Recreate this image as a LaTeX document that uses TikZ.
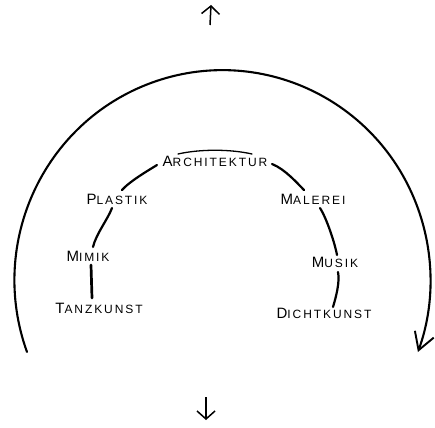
\documentclass[tikz,border=0pt]{standalone}
\usepackage{fontspec}
\setmainfont{Liberation Sans}
\usetikzlibrary{arrows.meta,calc}
\newcommand{\skw}[2]{{\addfontfeatures{LetterSpace=16}\fontsize{15}{15}\selectfont #1\fontsize{12}{12}\selectfont #2}}
\begin{document}
\begin{tikzpicture}[x=1pt,y=-1pt,
  lbl/.style={inner sep=0pt, text=black},
  conn/.style={line width=2.2pt, line cap=round},
  bigarc/.style={line width=2.1pt, line cap=round},
  smallarrow/.style={line width=1.5pt, -{Straight Barb[length=8pt,width=18pt,line width=1.5pt]}}]
\useasboundingbox (0,0) rectangle (435,427);
% outer arc
\draw[bigarc, -{Straight Barb[length=17pt,width=20pt,line width=1.9pt]}]
  (27,352) arc[start angle=200, end angle=-20, x radius=208pt, y radius=210pt];
% small arrows
\coordinate (upa) at (210,25);
\coordinate (upb) at (211,5);
\coordinate (dna) at (206,397);
\coordinate (dnb) at (206,420);
\draw[smallarrow] (upa) -- (upb);
\draw[smallarrow] (dna) -- (dnb);
% labels
\node[lbl] (arch) at (215,161) {\skw{A}{RCHITEKTUR}};
\node[lbl] (plastik) at (117,199) {\skw{P}{LASTIK}};
\node[lbl] (malerei) at (313,199) {\skw{M}{ALEREI}};
\node[lbl] (mimik) at (88,256) {\skw{M}{IMIK}};
\node[lbl] (musik) at (335,262) {\skw{M}{USIK}};
\node[lbl] (tanz) at (99,308) {\skw{T}{ANZKUNST}};
\node[lbl] (dicht) at (324,313) {\skw{D}{ICHTKUNST}};
% connectors
\draw[conn, line width=2.7pt] ($(tanz.center)+(-7,-10)$) -- ($(mimik.center)+(3,9)$);
\draw[conn] ($(mimik.center)+(5,-9)$) .. controls ($(mimik.center)+(8,-22)$) and ($(plastik.center)+(-9,20)$) .. ($(plastik.center)+(-5,9)$);
\draw[conn] ($(plastik.center)+(5,-9)$) .. controls ($(plastik.center)+(13,-18)$) and ($(arch.center)+(-66,9)$) .. ($(arch.center)+(-58,4)$);
\draw[line width=1.3pt, line cap=round] ($(arch.center)+(-37,-7)$) .. controls ($(arch.center)+(-15,-12)$) and ($(arch.center)+(15,-12)$) .. ($(arch.center)+(37,-7)$);
\draw[conn] ($(arch.center)+(57,3)$) .. controls ($(arch.center)+(70,8)$) and ($(malerei.center)+(-15,-15)$) .. ($(malerei.center)+(-9,-9)$);
\draw[conn] ($(malerei.center)+(7,9)$) .. controls ($(malerei.center)+(14,20)$) and ($(musik.center)+(0,-18)$) .. ($(musik.center)+(2,-7)$);
\draw[conn] ($(musik.center)+(3,10)$) .. controls ($(musik.center)+(5,20)$) and ($(dicht.center)+(12,-16)$) .. ($(dicht.center)+(9,-6)$);
\end{tikzpicture}
\end{document}
